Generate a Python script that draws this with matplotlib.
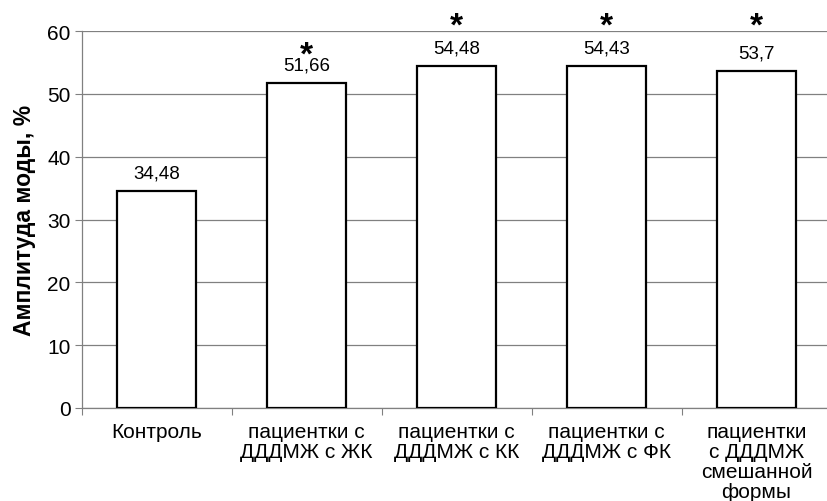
import matplotlib.pyplot as plt
import numpy as np

plt.rcParams['font.family'] = ['Liberation Sans', 'DejaVu Sans']
# жирная звёздочка через mathtext, чтобы рамка текста была по глифу
plt.rcParams['mathtext.fontset'] = 'custom'
plt.rcParams['mathtext.rm'] = 'Liberation Sans'
plt.rcParams['mathtext.bf'] = 'Liberation Sans:bold'

# данные
groups = ['Контроль', 'пациентки с\nДДДМЖ с ЖК', 'пациентки с\nДДДМЖ с КК',
          'пациентки с\nДДДМЖ с ФК', 'пациентки\nс ДДДМЖ\nсмешанной\nформы']
values = [34.48, 51.66, 54.48, 54.43, 53.7]
value_text = ['34,48', '51,66', '54,48', '54,43', '53,7']
significant = [False, True, True, True, True]

fig = plt.figure(figsize=(8.27, 5.02), dpi=100)
# ось выходит за правый край рисунка
ax = fig.add_axes([81.5 / 827, 1 - 409 / 502, 750 / 827, 377 / 502])

x = np.arange(len(groups))
ax.bar(x, values, width=0.53, color='white', edgecolor='black', linewidth=1.6, zorder=3)

ax.set_xlim(-0.5, len(groups) - 0.5)
ax.set_ylim(0, 60)
ax.set_yticks(range(0, 61, 10))
ax.yaxis.grid(True, color='#808080', linewidth=0.9, zorder=0)

ax.set_xticks(np.arange(-0.5, len(groups), 1.0))
ax.set_xticklabels([])
ax.set_xticks(x, minor=True)
ax.set_xticklabels(groups, minor=True, fontsize=15, linespacing=1.06)
ax.tick_params(axis='x', which='minor', length=0, pad=10)
ax.tick_params(axis='x', which='major', length=5, color='#808080')
ax.tick_params(axis='y', length=5, color='#808080', labelsize=15, pad=3)

for side in ['top', 'right']:
    ax.spines[side].set_visible(False)
for side in ['left', 'bottom']:
    ax.spines[side].set_color('#808080')
    ax.spines[side].set_linewidth(0.9)

ax.set_ylabel('Амплитуда моды, %', fontsize=16.5, fontweight='bold', labelpad=8)

# подписи значений и звёздочки
for i, (v, t, s) in enumerate(zip(values, value_text, significant)):
    ax.annotate(t, xy=(i, v), xytext=(0, 13), textcoords='offset points',
                ha='center', va='center', fontsize=13.5)
    if s:
        if v > 53:
            ax.annotate(r'$\mathbf{*}$', xy=(i, 60), xytext=(0, 4), textcoords='offset points',
                        ha='center', va='center', fontsize=24, annotation_clip=False)
        else:
            ax.annotate(r'$\mathbf{*}$', xy=(i, v), xytext=(0, 21), textcoords='offset points',
                        ha='center', va='center', fontsize=24)

fig.savefig('out.png', dpi=100)
